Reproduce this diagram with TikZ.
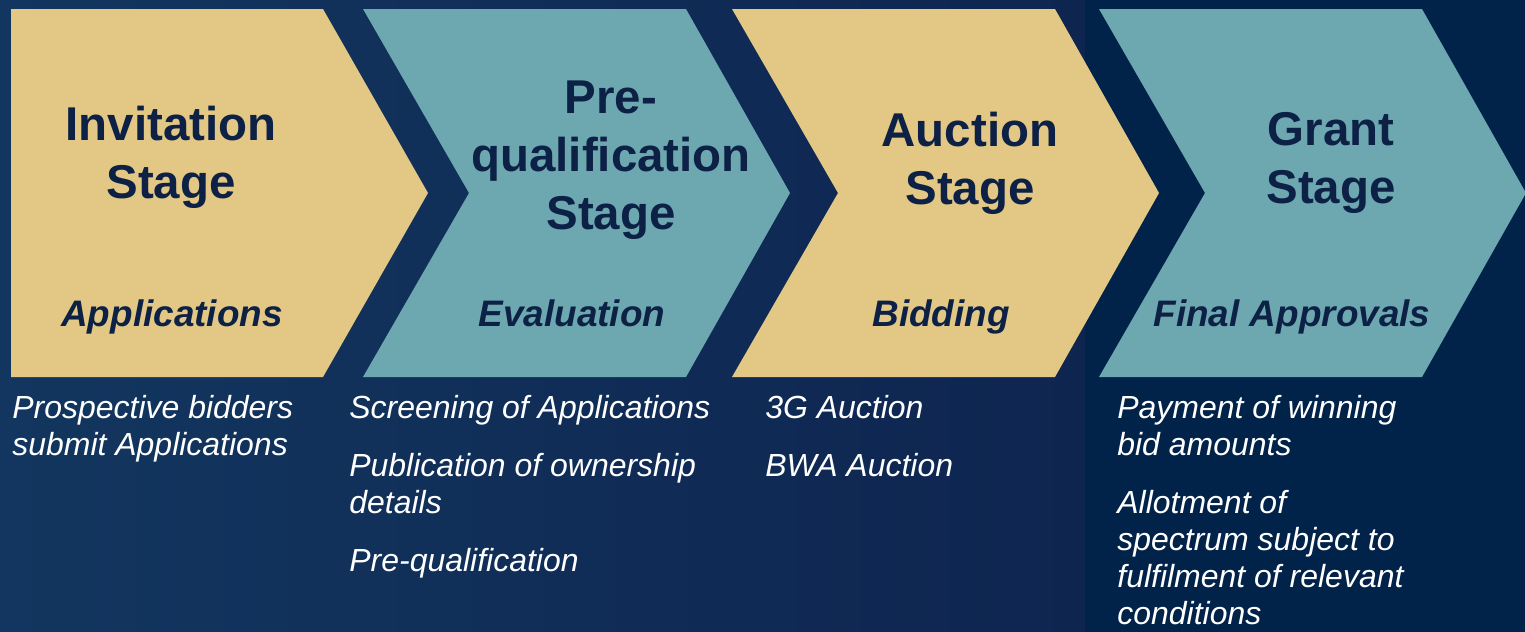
\documentclass[tikz,border=0pt]{standalone}
\usepackage{fontspec}
\setmainfont{Liberation Sans}
\definecolor{stagegold}{HTML}{E2C785}
\definecolor{stageteal}{HTML}{6DA8B0}
\definecolor{ink}{HTML}{0C2145}
\definecolor{bgleft}{HTML}{12365F}
\definecolor{bgmid}{HTML}{0E2550}
\definecolor{bgright}{HTML}{012249}

\begin{document}
\begin{tikzpicture}[x=0.02cm,y=-0.02cm,
    title/.style={font=\fontsize{27}{33}\selectfont\bfseries,text=ink,align=center,inner sep=0pt},
    subtitle/.style={font=\fontsize{21}{25}\selectfont\bfseries\itshape,text=ink,anchor=base,inner sep=0pt},
    detail/.style={font=\fontsize{18.2}{21}\selectfont\itshape,text=white,align=left,anchor=base west,inner sep=0pt}]
\useasboundingbox (0,0) rectangle (1525,632);
% background
\fill[bgright] (0,0) rectangle (1525,632);
\shade[left color=bgleft,right color=bgmid] (0,0) rectangle (1085,632);
% chevrons
\fill[stagegold] (11,9) -- (323,9) -- (428,193) -- (323,377) -- (11,377) -- cycle;
\foreach \x/\c in {363/stageteal,732/stagegold,1099/stageteal}
{       \fill[\c] (\x,9) -- ++(323,0) -- ++(104,184) -- ++(-104,184) -- ++(-323,0) -- ++(106,-184) -- cycle;
}
% stage names
\node[title] (invitation) at (171,157) {Invitation\\Stage};
\node[title] (prequal) at (611,160) {Pre-\\qualification\\Stage};
\node[title] (auction) at (970,163) {Auction\\Stage};
\node[title] (grant) at (1331,163) {Grant\\Stage};
\node[subtitle] (applications) at (172,326) {Applications};
\node[subtitle] (evaluation) at (572,326) {Evaluation};
\node[subtitle] (bidding) at (941,326) {Bidding};
\node[subtitle] (finalapp) at (1292,326) {Final Approvals};
% details below (anchored at the last baseline)
\node[detail] (bidders) at (12,455) {Prospective bidders\\submit Applications};
\node[detail] (screening) at (349,571) {Screening of Applications\\[12pt]Publication of ownership\\details\\[12pt]Pre-qualification};
\node[detail] (auctions) at (765,476) {3G Auction\\[12pt]BWA Auction};
\node[detail] (payment) at (1117,624) {Payment of winning\\bid amounts\\[12pt]Allotment of\\spectrum subject to\\fulfilment of relevant\\conditions};
\end{tikzpicture}
\end{document}
